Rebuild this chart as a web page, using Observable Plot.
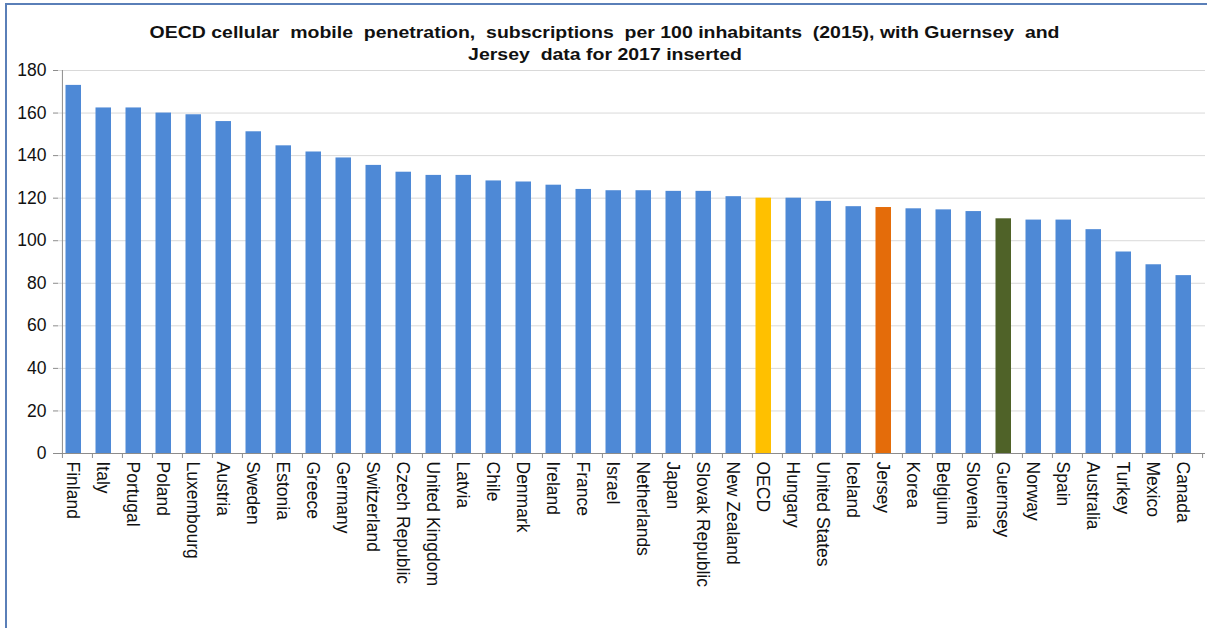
<!DOCTYPE html>
<html>
<head>
<meta charset="utf-8">
<script src="https://cdn.jsdelivr.net/npm/d3@7"></script>
<script src="https://cdn.jsdelivr.net/npm/@observablehq/plot@0.6"></script>
<style>
  html, body { margin: 0; padding: 0; background: #ffffff; }
  #wrap { position: relative; width: 1210px; height: 628px; overflow: hidden; font-family: "Liberation Sans", Arial, sans-serif; }
  #frame { position: absolute; left: 5px; top: 3px; width: 1202px; height: 640px; border-left: 2px solid #5a7fb8; border-top: 2px solid #5a7fb8; box-sizing: border-box; pointer-events: none; }
  #title { position: absolute; left: 0; top: 0; width: 1210px; padding-top: 21px; text-align: center; font-weight: bold; font-size: 16.5px; line-height: 22px; color: #111; }
  #title span { display: inline-block; white-space: pre; transform: scaleX(1.18); transform-origin: center; }
  svg { display: block; }
</style>
</head>
<body>
<div id="wrap">
  <div id="chart"></div>
  <div id="title"><span>OECD cellular  mobile  penetration,  subscriptions  per 100 inhabitants  (2015), with Guernsey  and</span><br><span>Jersey  data for 2017 inserted</span></div>
  <div id="frame"></div>
</div>
<script>
const countries = ["Finland","Italy","Portugal","Poland","Luxembourg","Austria","Sweden","Estonia","Greece","Germany","Switzerland","Czech Republic","United Kingdom","Latvia","Chile","Denmark","Ireland","France","Israel","Netherlands","Japan","Slovak Republic","New Zealand","OECD","Hungary","United States","Iceland","Jersey","Korea","Belgium","Slovenia","Guernsey","Norway","Spain","Australia","Turkey","Mexico","Canada"];
const values = [173.0,162.4,162.4,160.0,159.2,156.0,151.2,144.6,141.7,138.9,135.4,132.2,130.7,130.7,128.1,127.6,126.1,124.1,123.5,123.5,123.2,123.2,120.7,120.0,120.0,118.5,116.0,115.6,115.0,114.5,113.7,110.3,109.7,109.7,105.2,94.7,88.7,83.6];
const yTicks = [0,20,40,60,80,100,120,140,160,180];

const baseColor = "#4e89d6";
const highlight = {"OECD": "#ffc000", "Jersey": "#e46c0a", "Guernsey": "#4f6228"};

const data = countries.map((c, i) => ({country: c, value: values[i]}));

const W = 1210, H = 628;
const mL = 58, mR = 5;
const step = (W - mL - mR) / countries.length;
const axisColor = "#8c8c8c";

const chart = Plot.plot({
  width: W,
  height: H,
  marginTop: 70,
  marginBottom: 175,
  marginLeft: mL,
  marginRight: mR,
  style: {fontFamily: "'Liberation Sans', Arial, sans-serif", background: "transparent", color: "#111"},
  x: {domain: countries, padding: 0, axis: null, label: null},
  y: {domain: [0, 180], axis: null, label: null},
  marks: [
    Plot.gridY(yTicks.filter(d => d > 0), {stroke: "#d9d9d9", strokeOpacity: 1, strokeWidth: 1}),
    Plot.barY(data, {x: "country", y: "value", fill: d => highlight[d.country] || baseColor, insetLeft: 3.5, insetRight: 11}),
    // y axis
    Plot.axisY({ticks: yTicks, tickSize: 5, tickPadding: 7, fontSize: 17.5, stroke: axisColor, color: "#111", tickFormat: d => d, label: null}),
    Plot.ruleX([countries[0]], {x: d => d, dx: -step / 2, y1: 0, y2: 180, stroke: axisColor}),
    // x axis line and boundary ticks
    Plot.ruleY([0], {stroke: axisColor}),
    Plot.ruleX(countries, {x: d => d, y1: 0, y2: 0, dx: -step / 2, insetBottom: -5, stroke: axisColor}),
    Plot.ruleX([countries[countries.length - 1]], {x: d => d, y1: 0, y2: 0, dx: step / 2, insetBottom: -5, stroke: axisColor}),
    // x labels
    Plot.axisX({tickSize: 0, tickPadding: 8, tickRotate: 90, textAnchor: "start", lineAnchor: "middle", fontSize: 17.5, dx: -4.5, color: "#111", label: null})
  ]
});
document.getElementById("chart").appendChild(chart);
</script>
</body>
</html>
